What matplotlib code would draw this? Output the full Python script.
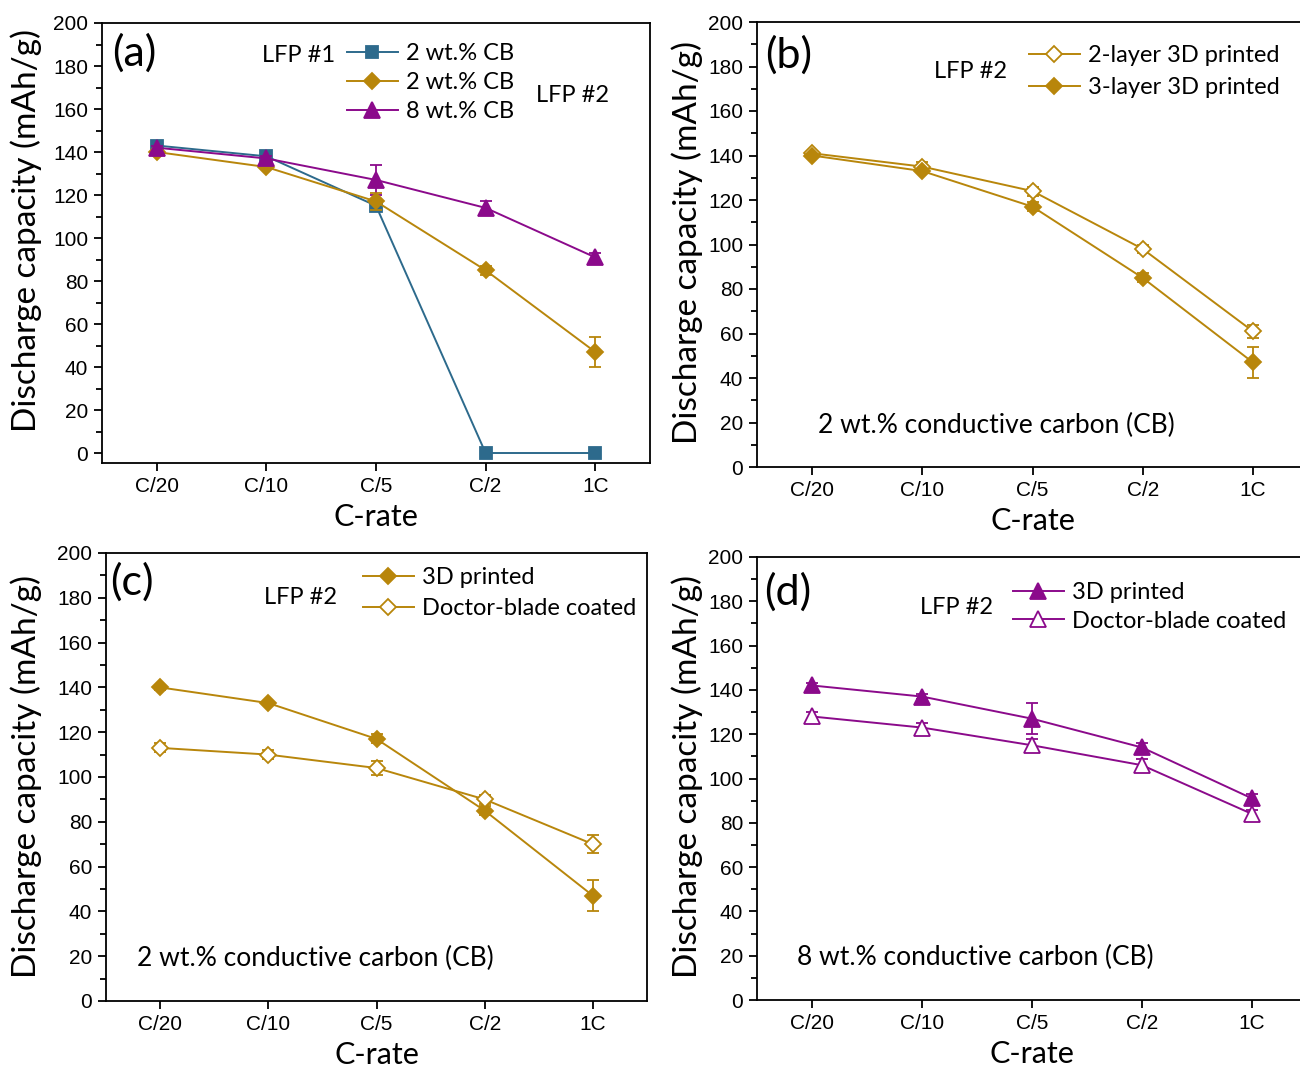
import numpy as np
import matplotlib
matplotlib.use("Agg")
import matplotlib.pyplot as plt
from matplotlib.container import ErrorbarContainer

# ----------------------------------------------------------------------------------------------
# Data
# ----------------------------------------------------------------------------------------------
c_rates = ["C/20", "C/10", "C/5", "C/2", "1C"]

# (a) LFP #1 vs LFP #2
a_lfp1_2cb = [143, 138, 115, 0, 0]
a_lfp2_2cb = [140, 133, 117, 85, 47]
a_lfp2_2cb_err = [1, 1, 4, 2, 7]
a_lfp2_8cb = [142, 137, 127, 114, 91]
a_lfp2_8cb_err = [1, 1, 7, 3, 2]

# (b) 2-layer vs 3-layer, 2 wt.% CB
b_2layer = [141, 135, 124, 98, 61]
b_2layer_err = [1, 2, 2, 2, 3]
b_3layer = [140, 133, 117, 85, 47]
b_3layer_err = [1, 1, 2, 2, 7]

# (c) 3D printed vs doctor-blade, 2 wt.% CB
c_printed = [140, 133, 117, 85, 47]
c_printed_err = [1, 1, 2, 2, 7]
c_blade = [113, 110, 104, 90, 70]
c_blade_err = [2, 2, 3, 2, 4]

# (d) 3D printed vs doctor-blade, 8 wt.% CB
d_printed = [142, 137, 127, 114, 91]
d_printed_err = [1, 1, 7, 2, 2]
d_blade = [128, 123, 115, 106, 84]
d_blade_err = [2, 2, 3, 3, 2]

BLUE = "#2d6a8c"
GOLD = "#b8860b"
PURPLE = "#8b0a8b"

label_font = "Lato"
tick_font = "Liberation Sans"

W, H = 1300, 1067
x = np.arange(1, len(c_rates) + 1)

fig = plt.figure(figsize=(W / 100, H / 100), dpi=100)


def add_axes_px(left, top, right, bottom):
    # axes box given in pixels of the final image
    return fig.add_axes([left / W, 1 - bottom / H, (right - left) / W, (bottom - top) / H])


def style_axes(ax, ylim, ylab_xy):
    ax.set_xlim(0.5, 5.5)
    ax.set_ylim(*ylim)
    ax.set_xticks(x)
    ax.set_xticklabels(c_rates, fontfamily=tick_font, fontsize=15)
    ax.set_yticks(np.arange(0, 201, 20))
    ax.set_yticks(np.arange(10, 200, 20), minor=True)
    for lab in ax.get_yticklabels():
        lab.set_fontfamily(tick_font)
        lab.set_fontsize(15)
    ax.tick_params(axis="both", which="major", direction="out", length=6, width=1.3, pad=4)
    ax.tick_params(axis="y", which="minor", direction="out", length=4, width=1.3)
    ax.tick_params(axis="x", which="minor", bottom=False)
    for sp in ax.spines.values():
        sp.set_linewidth(1.3)
    ax.set_xlabel("C-rate", fontfamily=label_font, fontsize=22, labelpad=5)
    ax.set_ylabel("Discharge capacity (mAh/g)", fontfamily=label_font, fontsize=24)
    # place y label by its right edge / centre, in pixels
    px, py = ylab_xy
    bb = ax.get_position()
    ax.yaxis.set_label_coords((px / W - bb.x0) / bb.width, ((1 - py / H) - bb.y0) / bb.height)


def series(ax, y, err, color, marker, ms, filled=True, label=None):
    ax.errorbar(
        x, y, yerr=err, color=color, marker=marker, markersize=ms,
        markerfacecolor=color if filled else "white", markeredgecolor=color,
        markeredgewidth=1.3, linewidth=1.4, capsize=4, elinewidth=1.3,
        capthick=1.3, label=label,
    )


def text_px(px, py, s, size=17, ha="left"):
    fig.text(px / W, 1 - py / H, s, fontfamily=label_font, fontsize=size, ha=ha, va="center")


def legend_px(ax, px, py, spacing):
    handles, labels = ax.get_legend_handles_labels()
    # show only the line + marker, not the error bars
    handles = [h[0] if isinstance(h, ErrorbarContainer) else h for h in handles]
    ax.legend(handles, labels, loc="upper left", bbox_to_anchor=(px / W, 1 - py / H),
              bbox_transform=fig.transFigure, frameon=False,
              prop={"family": label_font, "size": 17}, handlelength=2.15,
              handletextpad=0.35, borderpad=0, borderaxespad=0, labelspacing=spacing)


# ----------------------------------------------------------------------------------------------
# (a)
# ----------------------------------------------------------------------------------------------
ax_a = add_axes_px(102, 23, 650, 463)
ax_a.plot(x, a_lfp1_2cb, color=BLUE, marker="s", markersize=9, linewidth=1.4,
          markeredgewidth=1.3, label="2 wt.% CB")
series(ax_a, a_lfp2_2cb, a_lfp2_2cb_err, GOLD, "D", 8.5, label="2 wt.% CB")
series(ax_a, a_lfp2_8cb, a_lfp2_8cb_err, PURPLE, "^", 11, label="8 wt.% CB")
style_axes(ax_a, (-4.65, 200), (42, 231))
text_px(112, 53, "(a)", size=31)
text_px(299, 55, "LFP #1", ha="center")
text_px(573, 96, "LFP #2", ha="center")
legend_px(ax_a, 347, 43, 0.34)

# ----------------------------------------------------------------------------------------------
# (b)
# ----------------------------------------------------------------------------------------------
ax_b = add_axes_px(757, 22, 1308, 467)
series(ax_b, b_2layer, b_2layer_err, GOLD, "D", 8.5, filled=False, label="2-layer 3D printed")
series(ax_b, b_3layer, b_3layer_err, GOLD, "D", 8.5, label="3-layer 3D printed")
style_axes(ax_b, (0, 200), (703, 243))
text_px(765, 55, "(b)", size=31)
text_px(971, 72, "LFP #2", ha="center")
text_px(818, 425, "2 wt.% conductive carbon (CB)", size=19)
legend_px(ax_b, 1029, 45, 0.47)

# ----------------------------------------------------------------------------------------------
# (c)
# ----------------------------------------------------------------------------------------------
ax_c = add_axes_px(106, 553, 647, 1001)
series(ax_c, c_printed, c_printed_err, GOLD, "D", 8.5, label="3D printed")
series(ax_c, c_blade, c_blade_err, GOLD, "D", 8.5, filled=False, label="Doctor-blade coated")
style_axes(ax_c, (0, 200), (42, 777))
text_px(110, 582, "(c)", size=31)
text_px(300, 597, "LFP #2", ha="center")
text_px(137, 958, "2 wt.% conductive carbon (CB)", size=19)
legend_px(ax_c, 363, 567, 0.42)

# ----------------------------------------------------------------------------------------------
# (d)
# ----------------------------------------------------------------------------------------------
ax_d = add_axes_px(757, 557, 1307, 1000)
series(ax_d, d_printed, d_printed_err, PURPLE, "^", 11, label="3D printed")
series(ax_d, d_blade, d_blade_err, PURPLE, "^", 11, filled=False, label="Doctor-blade coated")
style_axes(ax_d, (0, 200), (703, 777))
text_px(764, 592, "(d)", size=31)
text_px(956, 607, "LFP #2", ha="center")
text_px(797, 957, "8 wt.% conductive carbon (CB)", size=19)
legend_px(ax_d, 1013, 582, 0.32)

fig.savefig("out.png", dpi=100)
